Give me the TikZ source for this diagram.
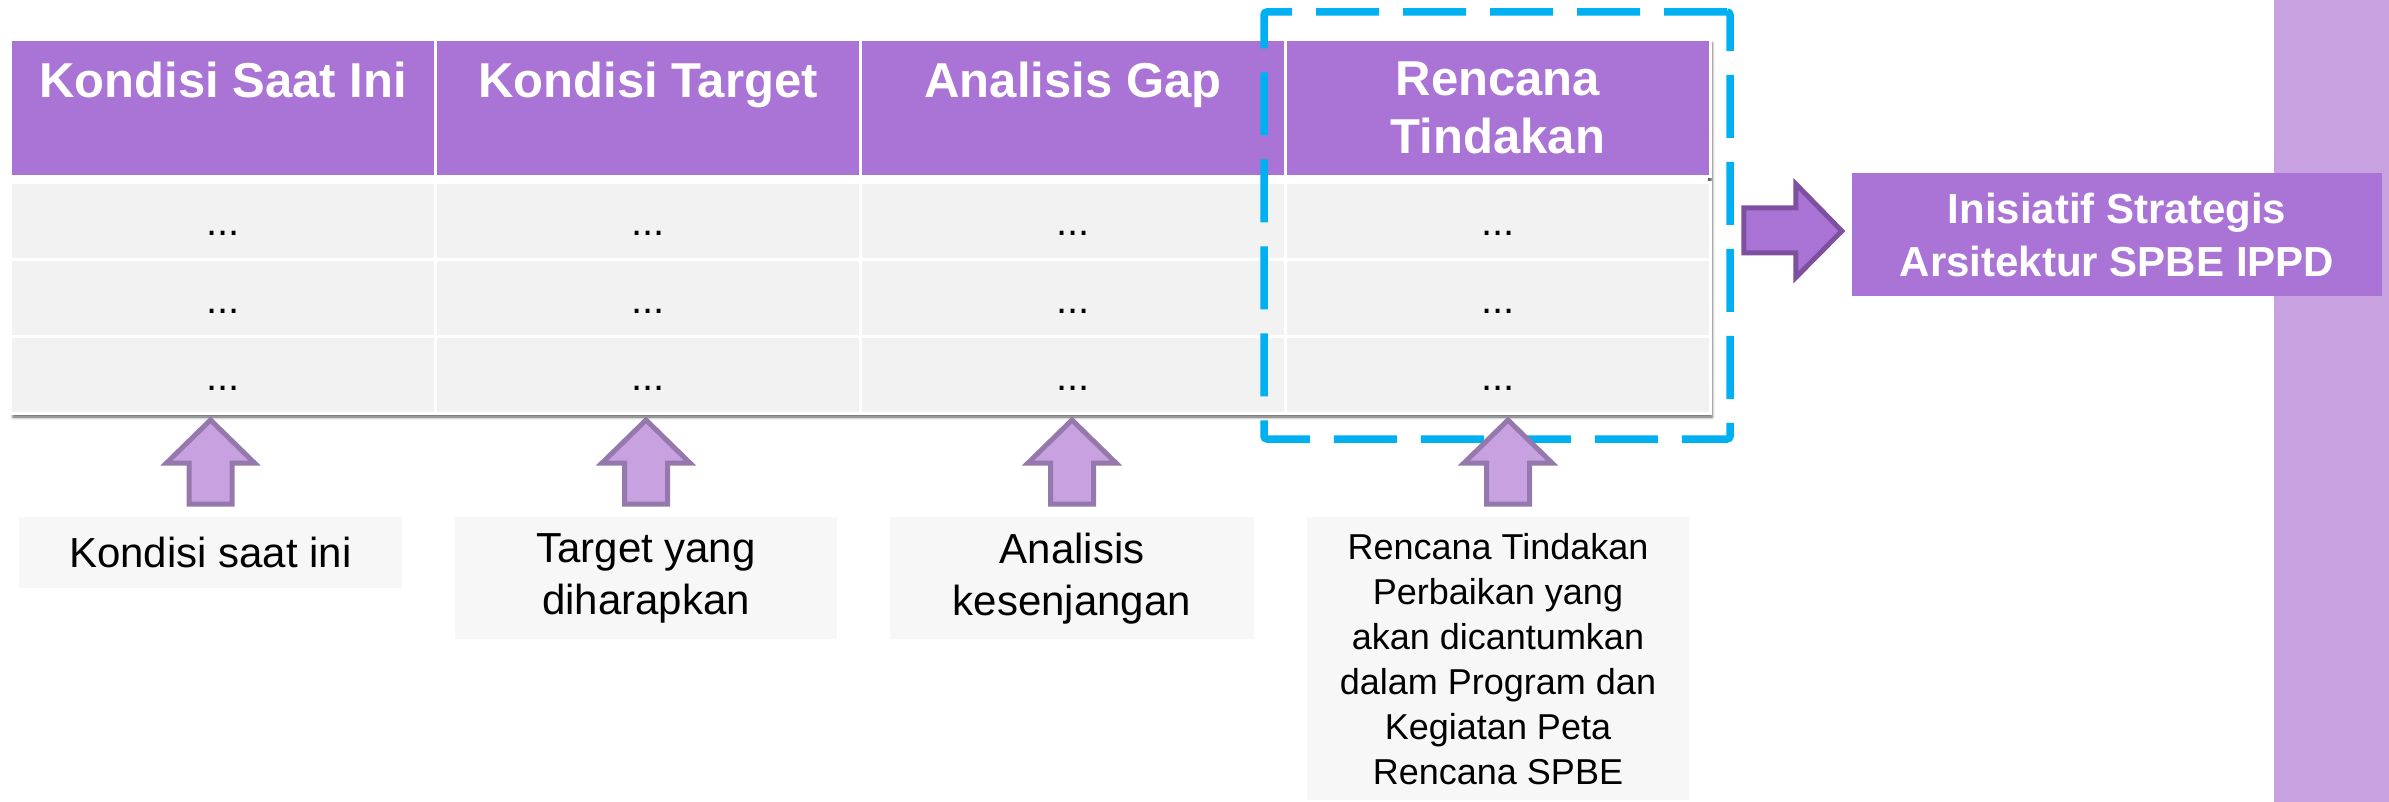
\documentclass[tikz,border=0pt]{standalone}
\usepackage{fontspec}
\setmainfont{Liberation Sans}
\usetikzlibrary{calc,positioning,shadows.blur}
\definecolor{headpurple}{RGB}{170,116,214}
\definecolor{barpurple}{RGB}{200,162,224}
\definecolor{arrowlilac}{RGB}{199,161,224}
\definecolor{arrowedge}{RGB}{150,121,172}
\definecolor{darkedge}{RGB}{125,81,160}
\definecolor{cellgray}{RGB}{242,242,242}
\definecolor{notegray}{RGB}{247,247,247}
\definecolor{focusblue}{RGB}{0,176,240}
\tikzset{
  headcell/.style ={rectangle, fill=headpurple, draw=white, line width=3pt,
                  minimum width=425pt, minimum height=137pt,
                  anchor=north west, inner sep=0},
  bodycell/.style ={headcell, fill=cellgray, minimum height=77pt},
  headtext/.style ={text=white, align=center, anchor=north, inner sep=0,
                  font=\fontsize{49}{58}\selectfont\bfseries},
  dots/.style ={anchor=base, inner sep=0, font=\fontsize{40}{48}\selectfont},
  note/.style ={rectangle, fill=notegray, align=center, inner sep=0,
                  anchor=north, font=\fontsize{42}{52}\selectfont},
  smallnote/.style ={note, font=\fontsize{36}{45}\selectfont},
  focus/.style ={rectangle, draw=focusblue, line width=7.5pt,
                  dash pattern=on 63pt off 24pt, rounded corners=3pt,
                  minimum width=466pt, minimum height=427pt},
  uparrow/.style ={draw=arrowedge, fill=arrowlilac, line width=5pt},
  rightarrow/.style ={draw=darkedge, fill=headpurple, line width=5pt},
  goal/.style ={rectangle, fill=headpurple, text=white, align=center,
                  minimum width=530pt, minimum height=123pt,
                  font=\fontsize{42}{53}\selectfont\bfseries},
}
\begin{document}
\begin{tikzpicture}[x=1pt,y=-1pt]
\useasboundingbox (0,0) rectangle (2389,802);
% table
\fill[white, blur shadow={shadow xshift=4pt, shadow yshift=-5pt,
  shadow blur radius=3pt, shadow opacity=65}] (9,38) rectangle (1708,412);
\foreach \j/\name in {1/{Kondisi Saat Ini},2/{Kondisi Target},
                      3/{Analisis Gap},4/{Rencana\\Tindakan}} {
  \node[headcell] (h\j) at ({9+425*(\j-1)},38) {};
  \node[headtext, below=24pt of h\j.north] (t\j) {\name};
  \foreach \i in {1,2,3} {
    \node[bodycell] (c\i\j) at ({9+425*(\j-1)},{181+77*(\i-1)}) {};
    \node[dots] (d\i\j) at ($(c\i\j.center)+(0,15)$) {...};
  }
}
\node[focus] (focus) at (1497,225.5) {};
% notes below
\node[note, minimum width=383pt, minimum height=71pt] (note1) at (210.5,517)
  {Kondisi saat ini};
\node[note, minimum width=382pt, minimum height=122pt] (note2) at (646,517)
  {Target yang\\diharapkan};
\node[note, minimum width=364pt, minimum height=122pt] (note3) at (1072,517)
  {Analisis\\kesenjangan};
\node[smallnote, minimum width=382pt, minimum height=283pt] (note4) at (1498,517)
  {Rencana Tindakan\\Perbaikan yang\\akan dicantumkan\\dalam Program dan\\Kegiatan Peta\\Rencana SPBE};
\foreach \n/\dx in {note1/0,note2/0,note3/0,note4/10}
  \draw[uparrow] ($(\n.north)+(\dx-21.5,-13)$) -- ++(0,-41) -- ++(-22.5,0)
    -- ($(\n.north)+(\dx,-97)$) -- ($(\n.north)+(\dx+44,-54)$) -- ++(-22.5,0)
    -- ($(\n.north)+(\dx+21.5,-13)$) -- cycle;
% right side
\fill[barpurple] (2274,0) rectangle (2389,802);
\node[goal] (goal) at (2117,234.5) {Inisiatif Strategis\\Arsitektur SPBE IPPD};
\coordinate (rtip) at ($(goal.west)+(-10,-3.5)$);
\draw[rightarrow] ($(rtip)+(-98,-23)$) -- ++(52,0) -- ++(0,-24) -- (rtip)
  -- ($(rtip)+(-46,46.5)$) -- ++(0,-24.5) -- ($(rtip)+(-98,22)$) -- cycle;
\end{tikzpicture}
\end{document}
